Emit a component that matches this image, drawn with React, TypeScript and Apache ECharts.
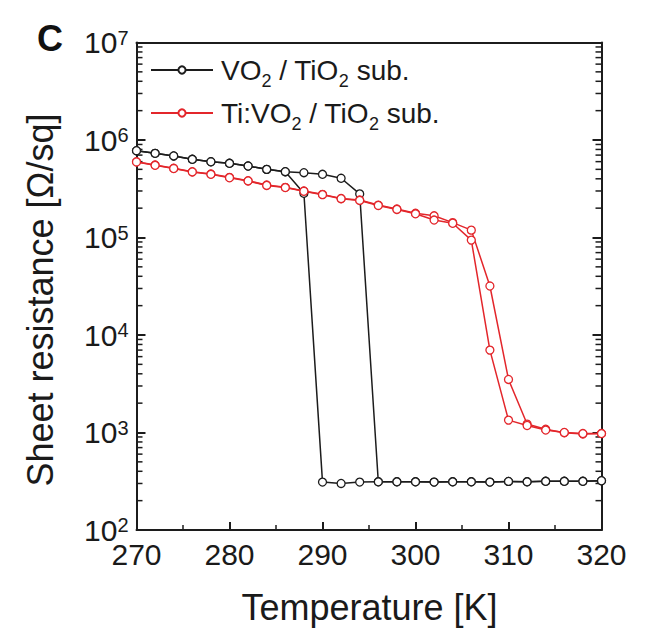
import React, { useEffect, useRef } from "react";
import * as echarts from "echarts";

// ---- data ----
const temps: number[] = [270, 272, 274, 276, 278, 280, 282, 284, 286, 288, 290, 292, 294, 296, 298, 300, 302, 304, 306, 308, 310, 312, 314, 316, 318, 320];

const vo2Heating: number[] = [7.76e5, 7.3e5, 6.86e5, 6.34e5, 5.98e5, 5.77e5, 5.41e5, 5.0e5, 4.73e5, 4.62e5, 4.45e5, 4.05e5, 2.8e5, 312, 312, 312, 310, 312, 312, 310, 315, 312, 316, 316, 316, 320];
const vo2Cooling: number[] = [7.76e5, 7.3e5, 6.86e5, 6.34e5, 5.98e5, 5.77e5, 5.41e5, 5.0e5, 4.73e5, 2.84e5, 310, 300, 310, 312, 312, 312, 310, 312, 312, 310, 315, 312, 316, 316, 316, 320];

const tiVo2Heating: number[] = [5.98e5, 5.55e5, 5.13e5, 4.73e5, 4.48e5, 4.14e5, 3.82e5, 3.45e5, 3.27e5, 3.0e5, 2.77e5, 2.51e5, 2.43e5, 2.15e5, 1.96e5, 1.77e5, 1.67e5, 1.42e5, 1.19e5, 3.18e4, 3.5e3, 1.22e3, 1.08e3, 995, 966, 975];
const tiVo2Cooling: number[] = [5.95e5, 5.5e5, 5.1e5, 4.7e5, 4.45e5, 4.1e5, 3.8e5, 3.42e5, 3.25e5, 2.98e5, 2.75e5, 2.5e5, 2.4e5, 2.13e5, 1.94e5, 1.75e5, 1.51e5, 1.4e5, 9.4e4, 7.0e3, 1.34e3, 1.18e3, 1.06e3, 1.0e3, 975, 975];

const seriesNames: string[] = ["VO2 / TiO2 sub.", "Ti:VO2 / TiO2 sub."];
const xTicks: number[] = [270, 280, 290, 300, 310, 320];
const yDecades: number[] = [2, 3, 4, 5, 6, 7];
const minorFactors: number[] = [2, 3, 4, 5, 6, 7, 8, 9];

const FONT = "Liberation Sans, Arial, Helvetica, sans-serif";
const BLACK = "#1c1c1c";
const RED = "#e3262b";

export default function App() {
  const ref = useRef<HTMLDivElement>(null);
  useEffect(() => {
    if (!ref.current) return;
    const chart = echarts.init(ref.current, null, { renderer: "svg" });

    const lineSeries = (name: string, ys: number[], color: string) => ({
      type: "line",
      name,
      data: temps.map((t, i) => [t, ys[i]]),
      symbol: "circle",
      symbolSize: 8,
      showSymbol: true,
      lineStyle: { color, width: 1.5 },
      itemStyle: { color: "#ffffff", borderColor: color, borderWidth: 1.3 },
      emphasis: { disabled: true },
      z: 3,
    });

    const baseGraphic: any[] = [
      {
        type: "text",
        x: 50,
        y: 38,
        style: { text: "C", fontSize: 36, fontWeight: "bold", fontFamily: FONT, fill: "#111", align: "center", verticalAlign: "middle" },
      },
      {
        type: "text",
        x: 369.5,
        y: 607,
        style: { text: "Temperature [K]", fontSize: 36, fontFamily: FONT, fill: "#1a1a1a", align: "center", verticalAlign: "middle" },
      },
      {
        type: "text",
        x: 40,
        y: 300,
        rotation: Math.PI / 2,
        style: { text: "Sheet resistance [Ω/sq]", fontSize: 36, fontFamily: FONT, fill: "#1a1a1a", align: "center", verticalAlign: "middle" },
      },
    ];

    const option: any = {
      animation: false,
      textStyle: { fontFamily: FONT },
      grid: { left: 136.5, right: 52.5, top: 42.5, bottom: 101, containLabel: false },
      legend: {
        orient: "vertical",
        left: 150,
        top: 56,
        padding: 0,
        itemWidth: 62,
        itemHeight: 9,
        itemGap: 9,
        data: seriesNames,
        selectedMode: false,
        textStyle: {
          fontFamily: FONT,
          color: "#1a1a1a",
          padding: [0, 0, 0, 3],
          rich: {
            m: { fontSize: 28, fontFamily: FONT, color: "#1a1a1a", lineHeight: 40, verticalAlign: "middle" },
            sub: { fontSize: 18, fontFamily: FONT, color: "#1a1a1a", lineHeight: 18, verticalAlign: "bottom" },
          },
        },
        formatter: (name: string) => {
          const parts = name.split("2");
          return parts.map((p, i) => `{m|${p}}` + (i < parts.length - 1 ? "{sub|2}" : "")).join("");
        },
      },
      xAxis: [
        {
          type: "value",
          min: 270,
          max: 320,
          interval: 10,
          axisLine: { show: true, lineStyle: { color: BLACK, width: 2 } },
          axisTick: { show: true, inside: true, length: 8, lineStyle: { color: BLACK, width: 2 } },
          minorTick: { show: true, splitNumber: 2, length: 5, lineStyle: { color: BLACK, width: 1.5 } },
          splitLine: { show: false },
          axisLabel: {
            fontSize: 30,
            fontFamily: FONT,
            color: "#1a1a1a",
            margin: 9,
            formatter: (v: number) => (xTicks.includes(v) ? String(v) : ""),
          },
        },
        {
          type: "value",
          position: "top",
          min: 270,
          max: 320,
          interval: 10,
          axisLine: { show: true, lineStyle: { color: BLACK, width: 2 } },
          axisTick: { show: false },
          axisLabel: { show: false },
          splitLine: { show: false },
        },
      ],
      yAxis: [
        {
          type: "log",
          logBase: 10,
          min: 100,
          max: 1e7,
          axisLine: { show: true, lineStyle: { color: BLACK, width: 2 } },
          axisTick: { show: true, inside: true, length: 9, lineStyle: { color: BLACK, width: 2 } },
          splitLine: { show: false },
          axisLabel: {
            margin: 8,
            formatter: (v: number) => `{b|10}{s|${Math.round(Math.log10(v))}}`,
            rich: {
              b: { fontSize: 30, fontFamily: FONT, color: "#1a1a1a", lineHeight: 30, padding: [4, 0, 0, 0], verticalAlign: "bottom" },
              s: { fontSize: 20, fontFamily: FONT, color: "#1a1a1a", lineHeight: 18, verticalAlign: "top" },
            },
          },
        },
        {
          type: "log",
          logBase: 10,
          min: 100,
          max: 1e7,
          position: "right",
          axisLine: { show: true, lineStyle: { color: BLACK, width: 2 } },
          axisTick: { show: true, inside: true, length: 9, lineStyle: { color: BLACK, width: 2 } },
          splitLine: { show: false },
          axisLabel: { show: false },
        },
      ],
      series: [
        lineSeries(seriesNames[0], vo2Heating, BLACK),
        lineSeries(seriesNames[0], vo2Cooling, BLACK),
        lineSeries(seriesNames[1], tiVo2Heating, RED),
        lineSeries(seriesNames[1], tiVo2Cooling, RED),
      ],
      graphic: baseGraphic,
    };

    chart.setOption(option);

    // minor log ticks, positioned through the library's own y scale
    const tickEls: any[] = [];
    const xl = chart.convertToPixel({ xAxisIndex: 0 }, 270) as number;
    const xr = chart.convertToPixel({ xAxisIndex: 0 }, 320) as number;
    for (let i = 0; i < yDecades.length - 1; i++) {
      for (const f of minorFactors) {
        const v = f * Math.pow(10, yDecades[i]);
        const py = chart.convertToPixel({ yAxisIndex: 0 }, v) as number;
        tickEls.push({
          type: "line",
          silent: true,
          shape: { x1: xl, y1: py, x2: xl + 6, y2: py },
          style: { stroke: BLACK, lineWidth: 1.5 },
        });
        tickEls.push({
          type: "line",
          silent: true,
          shape: { x1: xr - 6, y1: py, x2: xr, y2: py },
          style: { stroke: BLACK, lineWidth: 1.5 },
        });
      }
    }
    chart.setOption({ graphic: [...baseGraphic, ...tickEls] }, { replaceMerge: ["graphic"] });

    return () => chart.dispose();
  }, []);

  return (
    <div
      ref={ref}
      style={{ position: "fixed", left: 0, top: 0, width: 654, height: 631, background: "#fff" }}
    />
  );
}
